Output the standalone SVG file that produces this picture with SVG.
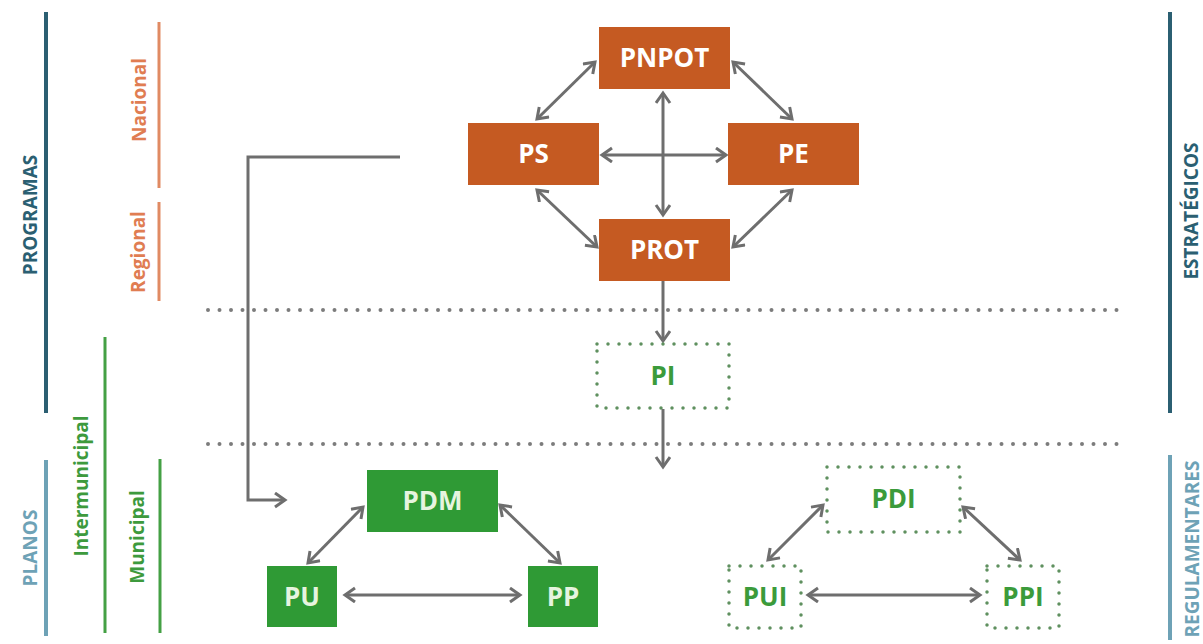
<svg xmlns="http://www.w3.org/2000/svg" width="1203" height="644" viewBox="0 0 1203 644">
<style>
.lbl{font-family:"Open Sans","Liberation Sans",sans-serif;font-weight:700;}
.big{font-size:19px;}
.sm{font-size:19px;}
.box{font-family:"Open Sans","Liberation Sans",sans-serif;font-weight:700;font-size:26px;text-anchor:middle;}
.or{fill:#c55a22;}
.gr{fill:#2f9a35;}
.dot{fill:#ffffff;stroke:#5f905f;stroke-width:3.5;stroke-dasharray:0 11;stroke-linecap:round;}
.wt{fill:#ffffff;}
.gt{fill:#e6f4df;}
.dt{fill:#3b9b3b;}
.con{fill:none;stroke:#6e6e6e;stroke-width:3;}
.sep{fill:none;stroke:#7c7c7c;stroke-width:4;stroke-dasharray:0 11.5;stroke-linecap:round;}
</style>
<defs>
<marker id="ah" markerUnits="userSpaceOnUse" markerWidth="16" markerHeight="18" refX="12" refY="8" orient="auto-start-reverse" viewBox="0 0 16 18">
<path d="M2,1 L12,8 L2,15" fill="none" stroke="#6e6e6e" stroke-width="3" stroke-linejoin="miter"/>
</marker>
</defs>
<rect width="1203" height="644" fill="#ffffff"/>

<g id="side-labels">
<line x1="46" y1="12" x2="46" y2="413" stroke="#2b5f72" stroke-width="4"/>
<text class="lbl big" fill="#2b5f72" text-anchor="middle" transform="translate(37,215) rotate(-90)">PROGRAMAS</text>
<line x1="46" y1="460" x2="46" y2="636" stroke="#6ea2b6" stroke-width="4"/>
<text class="lbl big" fill="#6ea2b6" text-anchor="middle" transform="translate(37,548) rotate(-90)">PLANOS</text>
<line x1="159" y1="22" x2="159" y2="188" stroke="#e08a63" stroke-width="3"/>
<text class="lbl sm" fill="#e07d52" text-anchor="middle" transform="translate(146,100) rotate(-90)">Nacional</text>
<line x1="159" y1="202" x2="159" y2="301" stroke="#e08a63" stroke-width="3"/>
<text class="lbl sm" fill="#e07d52" text-anchor="middle" transform="translate(145,252) rotate(-90)">Regional</text>
<line x1="105" y1="337" x2="105" y2="633" stroke="#44a044" stroke-width="3"/>
<text class="lbl sm" fill="#3d9a3d" text-anchor="middle" transform="translate(88,486) rotate(-90)">Intermunicipal</text>
<line x1="160" y1="459" x2="160" y2="633" stroke="#44a044" stroke-width="3"/>
<text class="lbl sm" fill="#3d9a3d" text-anchor="middle" transform="translate(144,537) rotate(-90)">Municipal</text>
<line x1="1170" y1="12" x2="1170" y2="413" stroke="#2b5f72" stroke-width="4"/>
<text class="lbl big" fill="#2b5f72" text-anchor="middle" transform="translate(1198,211) rotate(-90)">ESTRATÉGICOS</text>
<line x1="1170" y1="455" x2="1170" y2="640" stroke="#6ea2b6" stroke-width="4"/>
<text class="lbl big" fill="#6ea2b6" text-anchor="middle" transform="translate(1199,549) rotate(-90)">REGULAMENTARES</text>
</g>

<g id="separators">
<line class="sep" x1="208" y1="310" x2="1120" y2="310"/>
<line class="sep" x1="208" y1="444" x2="1120" y2="444"/>
</g>

<g id="connectors">
<line class="con" x1="595" y1="62" x2="537" y2="119" marker-start="url(#ah)" marker-end="url(#ah)"/>
<line class="con" x1="733" y1="62" x2="792" y2="119" marker-start="url(#ah)" marker-end="url(#ah)"/>
<line class="con" x1="602" y1="155" x2="726" y2="155" marker-start="url(#ah)" marker-end="url(#ah)"/>
<line class="con" x1="663" y1="93" x2="663" y2="215" marker-start="url(#ah)" marker-end="url(#ah)"/>
<line class="con" x1="537" y1="190" x2="597" y2="247" marker-start="url(#ah)" marker-end="url(#ah)"/>
<line class="con" x1="792" y1="190" x2="733" y2="247" marker-start="url(#ah)" marker-end="url(#ah)"/>
<line class="con" x1="663" y1="281" x2="663" y2="341" marker-end="url(#ah)"/>
<line class="con" x1="663" y1="409" x2="663" y2="467" marker-end="url(#ah)"/>
<polyline class="con" points="400,157 248,157 248,500 285,500" marker-end="url(#ah)"/>
<line class="con" x1="363" y1="507" x2="308" y2="563" marker-start="url(#ah)" marker-end="url(#ah)"/>
<line class="con" x1="500" y1="505" x2="560" y2="563" marker-start="url(#ah)" marker-end="url(#ah)"/>
<line class="con" x1="345" y1="595" x2="520" y2="595" marker-start="url(#ah)" marker-end="url(#ah)"/>
<line class="con" x1="823" y1="505" x2="768" y2="560" marker-start="url(#ah)" marker-end="url(#ah)"/>
<line class="con" x1="963" y1="507" x2="1020" y2="560" marker-start="url(#ah)" marker-end="url(#ah)"/>
<line class="con" x1="808" y1="595" x2="980" y2="595" marker-start="url(#ah)" marker-end="url(#ah)"/>
</g>

<g id="PNPOT"><rect class="or" x="599" y="27" width="131" height="62"/><text class="box wt" x="664.5" y="67">PNPOT</text></g>
<g id="PS"><rect class="or" x="468" y="123" width="131" height="62"/><text class="box wt" x="533.5" y="163">PS</text></g>
<g id="PE"><rect class="or" x="728" y="123" width="131" height="62"/><text class="box wt" x="793.5" y="163">PE</text></g>
<g id="PROT"><rect class="or" x="599" y="219" width="131" height="62"/><text class="box wt" x="664.5" y="259">PROT</text></g>
<g id="PI"><rect class="dot" x="597" y="344" width="132" height="64"/><text class="box dt" x="663" y="385">PI</text></g>
<g id="PDM"><rect class="gr" x="367" y="470" width="131" height="62"/><text class="box gt" x="432.5" y="510">PDM</text></g>
<g id="PU"><rect class="gr" x="267" y="566" width="70" height="61"/><text class="box gt" x="302" y="606">PU</text></g>
<g id="PP"><rect class="gr" x="528" y="566" width="70" height="61"/><text class="box gt" x="563" y="606">PP</text></g>
<g id="PDI"><rect class="dot" x="827" y="467" width="133" height="65"/><text class="box dt" x="893.5" y="508">PDI</text></g>
<g id="PUI"><rect class="dot" x="729" y="566" width="72" height="62"/><text class="box dt" x="765" y="606">PUI</text></g>
<g id="PPI"><rect class="dot" x="987" y="566" width="72" height="62"/><text class="box dt" x="1023" y="606">PPI</text></g>
</svg>
